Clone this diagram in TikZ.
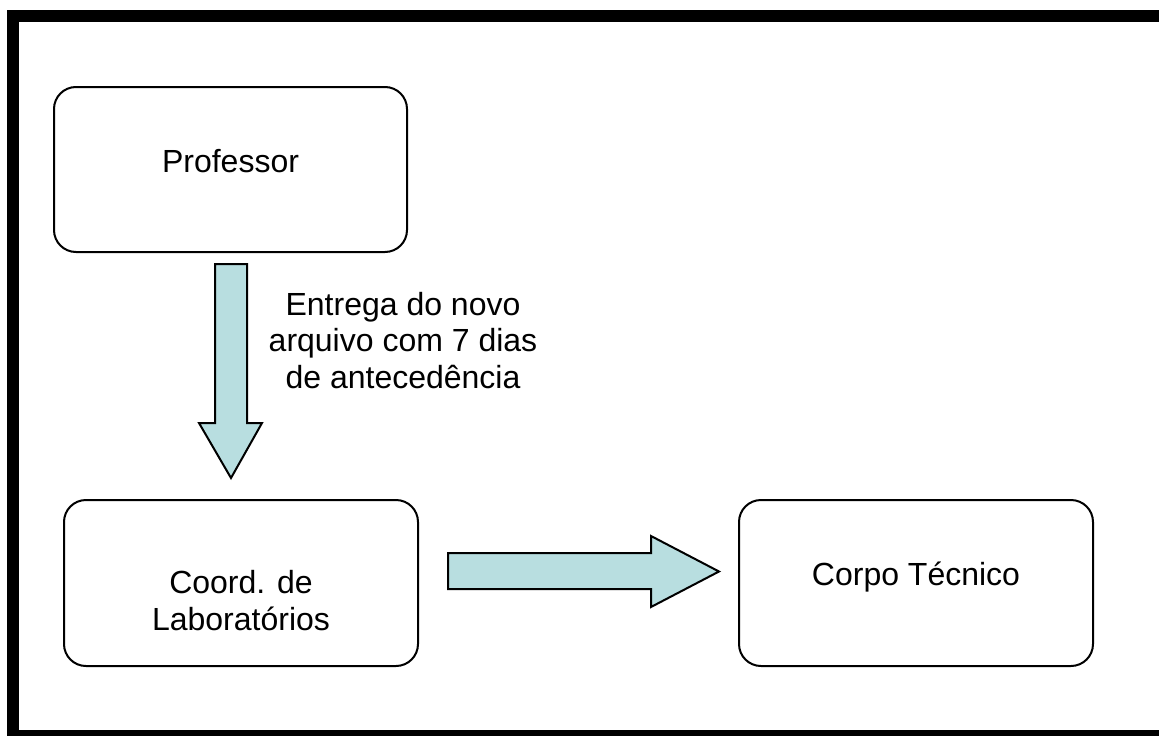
\documentclass[tikz,border=0pt]{standalone}
\usepackage{fontspec}
\setmainfont{Liberation Sans}
\definecolor{arrowfill}{RGB}{184,222,224}
\begin{document}
\begin{tikzpicture}[x=1pt,y=-1pt,
  box/.style={draw=black, line width=2pt, rounded corners=22pt, inner sep=0pt, align=center, font=\fontsize{32}{36.5}\selectfont},
  blockarrow/.style={draw=black, fill=arrowfill, line width=2pt, line join=miter},
  frameline/.style={draw=black, line width=12pt, line join=miter},
  lbltext/.style={inner sep=0pt, align=center, font=\fontsize{32}{36.5}\selectfont}]
\useasboundingbox (0,0) rectangle (1159,736);
\clip (0,0) rectangle (1159,736);
\draw[frameline] (1200,16) -- (13,16) -- (13,736) -- (1200,736);
\node[box, minimum width=353pt, minimum height=165pt, text height=24pt, text depth=19pt] (prof) at (230.5,169.5) {Professor};
\node[box, minimum width=354pt, minimum height=166pt, text height=100pt, text depth=6pt] (coord) at (241,583) {Coord. de\\Laboratórios};
\node[box, minimum width=354pt, minimum height=166pt, text height=24pt, text depth=20pt] (corpo) at (916,583) {Corpo Técnico};
\node[lbltext, anchor=base] (lbl) at (403,388) {Entrega do novo\\arquivo com 7 dias\\de antecedência};
\draw[blockarrow] (215,264) -- (247,264) -- (247,423) -- (262,423) -- (231,478) -- (199,423) -- (215,423) -- cycle;
\draw[blockarrow] (448,553) -- (651,553) -- (651,536) -- (719,571.5) -- (651,607) -- (651,589) -- (448,589) -- cycle;
\end{tikzpicture}
\end{document}
